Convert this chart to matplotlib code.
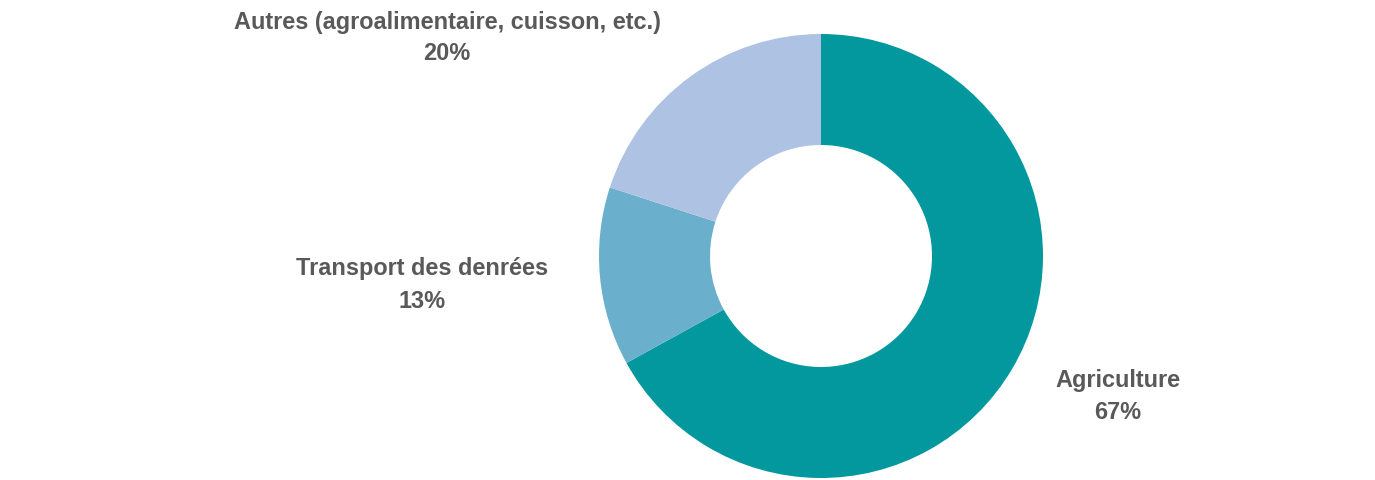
import matplotlib
matplotlib.use("Agg")
import matplotlib.pyplot as plt

categories = ["Agriculture", "Transport des denrées", "Autres (agroalimentaire, cuisson, etc.)"]
values = [67, 13, 20]
colors = ["#02989E", "#6AAFCB", "#AEC3E4"]

W, H = 1375, 481
fig = plt.figure(figsize=(W / 100, H / 100), dpi=100)
ax = fig.add_axes([0, 0, 1, 1])

cx, cy, R = 821, H - 257, 222
ax.pie(values, colors=colors, startangle=90, counterclock=False,
       center=(cx, cy), radius=R, wedgeprops=dict(width=R * 0.5, linewidth=0),
       frame=True)
ax.set_xlim(0, W)
ax.set_ylim(0, H)
ax.set_aspect("equal")
ax.axis("off")

label_pos = [(1118, H - 397), (422, H - 285), (447, H - 38)]
for cat, v, (x, y) in zip(categories, values, label_pos):
    ax.text(x, y, f"{cat}\n{v}%", ha="center", va="center", fontsize=16.9,
            fontweight="bold", color="#595959", family="Liberation Sans",
            linespacing=1.5)

fig.savefig("out.png", dpi=100)
